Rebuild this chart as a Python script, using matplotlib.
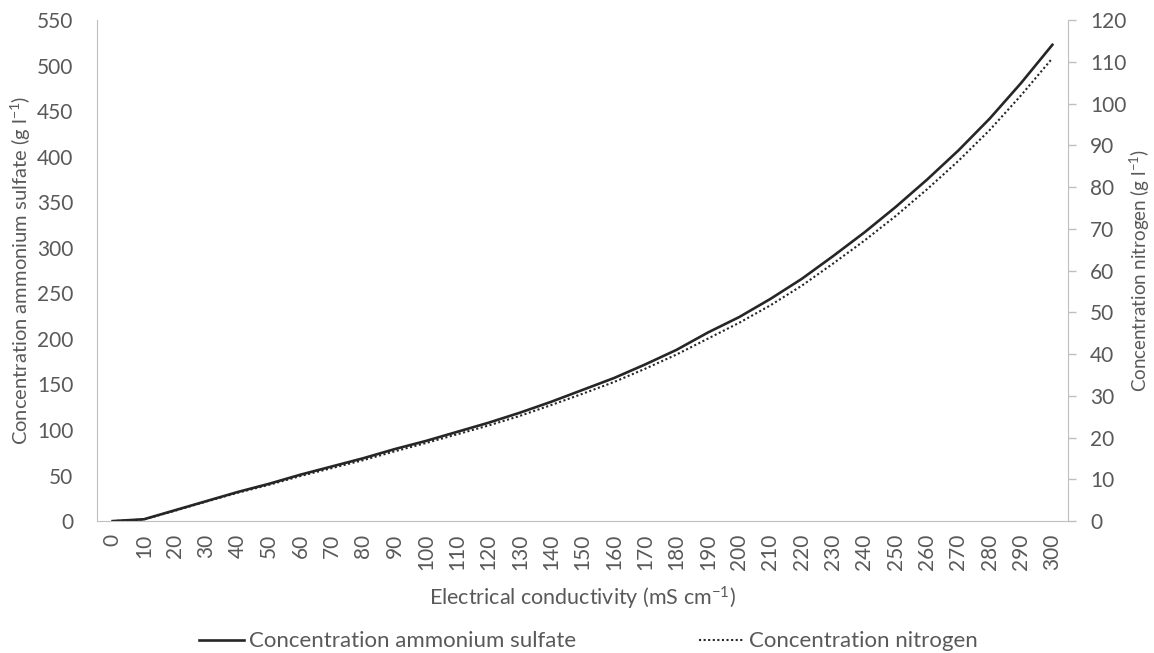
import numpy as np
import matplotlib
matplotlib.use("Agg")
import matplotlib.pyplot as plt

plt.rcParams['font.family'] = ['Lato', 'DejaVu Sans']
plt.rcParams['mathtext.default'] = 'regular'

conductivity = list(range(0, 301, 10))
ammonium_sulfate = [0, 2, 12, 22, 32, 41, 51, 60, 69, 79, 88, 98, 108, 119, 131,
                    144, 157, 172, 188, 207, 224, 244, 266, 291, 317, 345, 375,
                    407, 442, 481, 523]
nitrogen = [0, 0.4, 2.5, 4.7, 6.8, 8.7, 10.8, 12.7, 14.6, 16.7, 18.7, 20.8, 22.9,
            25.2, 27.8, 30.5, 33.3, 36.5, 39.9, 43.7, 47.5, 51.7, 56.4, 61.7,
            67.2, 73.1, 79.5, 86.3, 93.7, 102.0, 110.9]

grey_text = '#595959'
grey_axis = '#BFBFBF'
fs = 15

fig = plt.figure(figsize=(11.54, 6.53), dpi=100)
ax = fig.add_axes([0.084, 0.202, 0.8415, 0.767])
ax2 = ax.twinx()

pos = np.arange(len(conductivity))
l1, = ax.plot(pos, ammonium_sulfate, color='#262626', lw=1.9,
              label='Concentration ammonium sulfate')
l2, = ax2.plot(pos, nitrogen, color='#262626', lw=1.5, linestyle=(0, (1, 1.2)),
               label='Concentration nitrogen')

ax.set_xlim(-0.5, len(pos) - 0.5)
ax.set_ylim(0, 550)
ax.set_yticks(range(0, 551, 50))
ax2.set_ylim(0, 120)
ax2.set_yticks(range(0, 121, 10))

ax.set_xticks(pos)
ax.set_xticklabels([str(c) for c in conductivity], rotation=90)

for a in (ax, ax2):
    for s in a.spines.values():
        s.set_visible(False)
    a.tick_params(labelsize=fs, colors=grey_text)

ax.spines['left'].set_visible(True)
ax.spines['left'].set_color(grey_axis)
ax.spines['bottom'].set_visible(True)
ax.spines['bottom'].set_color(grey_axis)
ax2.spines['right'].set_visible(True)
ax2.spines['right'].set_color(grey_axis)

ax.tick_params(axis='y', length=0, pad=17)
ax.tick_params(axis='x', length=0, pad=9)
ax2.tick_params(axis='y', length=6, width=1, color=grey_axis, pad=10)

ax.set_xlabel('Electrical conductivity (mS cm$^{-1}$)', fontsize=15.5,
              color=grey_text, labelpad=11)
ax.set_ylabel('Concentration ammonium sulfate (g l$^{-1}$)', fontsize=14.5,
              color=grey_text, labelpad=3)
ax2.set_ylabel('Concentration nitrogen (g l$^{-1}$)', fontsize=13.5,
               color=grey_text)
ax2.yaxis.set_label_coords(1.062, 0.5)

leg = fig.legend(handles=[l1, l2], loc='lower center', bbox_to_anchor=(0.51, -0.028),
                 ncol=2, frameon=False, fontsize=16, handlelength=2.0,
                 handletextpad=0.25, columnspacing=5.5)
for t in leg.get_texts():
    t.set_color(grey_text)

fig.savefig('out.png', dpi=100)
